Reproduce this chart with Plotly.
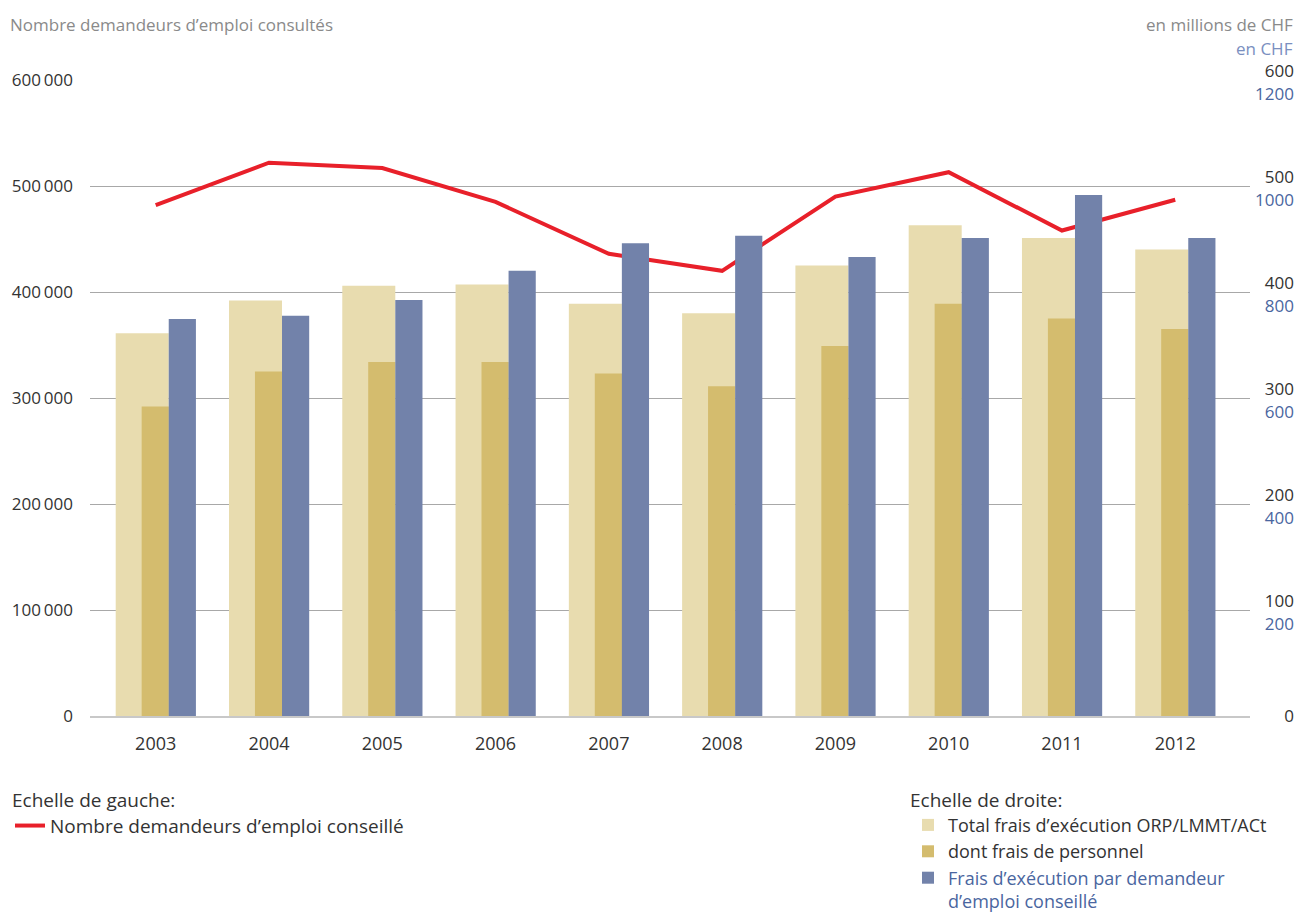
import plotly.graph_objects as go

years = ["2003", "2004", "2005", "2006", "2007", "2008", "2009", "2010", "2011", "2012"]
demandeurs = [482000, 522000, 517000, 485000, 436000, 420000, 490000, 513000, 458000, 487000]
total_frais = [361, 392, 406, 407, 389, 380, 425, 463, 451, 440]
frais_personnel = [292, 325, 334, 334, 323, 311, 349, 389, 375, 365]
frais_par_demandeur = [749, 755, 785, 840, 892, 906, 866, 902, 983, 902]

left_ticks = [0, 100000, 200000, 300000, 400000, 500000, 600000]
left_text = ["0", "100\u2009000", "200\u2009000", "300\u2009000", "400\u2009000", "500\u2009000", "600\u2009000"]
mid_ticks = [100, 200, 300, 400, 500, 600]
blue_ticks = [200, 400, 600, 800, 1000, 1200]

FONT = "Open Sans"
DARK = "#333333"
GREY = "#8a8a8a"
BLUE_TXT = "#4a66a0"
BEIGE = "#e8dcaf"
TAN = "#d4bc6e"
BLUE = "#7282aa"
RED = "#e8202a"

fig = go.Figure()

fig.add_trace(go.Bar(
    x=years, y=total_frais, yaxis="y2", name="Total frais d\u2019exécution ORP/LMMT/ACt",
    marker=dict(color=BEIGE, line=dict(width=0)), offset=-0.353, width=0.468,
    legend="legend2"))
fig.add_trace(go.Bar(
    x=years, y=frais_personnel, yaxis="y2", name="dont frais de personnel",
    marker=dict(color=TAN, line=dict(width=0)), offset=-0.124, width=0.24,
    legend="legend2"))
fig.add_trace(go.Bar(
    x=years, y=frais_par_demandeur, yaxis="y3",
    name="<span style='color:%s'>Frais d\u2019exécution par demandeur<br>d\u2019emploi conseillé</span>" % BLUE_TXT,
    marker=dict(color=BLUE, line=dict(width=0)), offset=0.115, width=0.24,
    legend="legend2"))
fig.add_trace(go.Scatter(
    x=years, y=demandeurs, mode="lines", name="Nombre demandeurs d\u2019emploi conseillé",
    line=dict(color=RED, width=4), legend="legend"))

dom_right = (1250 - 90) / 1205
rpos = (1294 - 90) / 1205

fig.update_layout(
    width=1299, height=913,
    margin=dict(l=90, r=4, t=80, b=197, autoexpand=False),
    paper_bgcolor="white", plot_bgcolor="white",
    font=dict(family=FONT, size=18, color=DARK),
    barmode="overlay",
    xaxis=dict(domain=[0, dom_right], type="category", range=[-0.58, 9.66],
               showgrid=False, showline=True, linecolor="#c8c8c8", linewidth=2,
               ticks="", ticklabelstandoff=10, tickfont=dict(size=18, color=DARK)),
    yaxis=dict(range=[0, 600000], tickvals=left_ticks, ticktext=left_text,
               showgrid=True, gridcolor="#a8a8a8", gridwidth=1, zeroline=False,
               ticks="", ticklabelstandoff=16, tickfont=dict(size=17, color=DARK)),
    yaxis2=dict(range=[0, 600], overlaying="y", side="left", anchor="free", position=rpos,
                tickvals=mid_ticks, showgrid=False, zeroline=False, showline=False,
                ticks="", ticklabelstandoff=0, ticklabelshift=-9,
                tickfont=dict(size=17, color=DARK)),
    yaxis3=dict(range=[0, 1200], overlaying="y", side="left", anchor="free", position=rpos,
                tickvals=blue_ticks, showgrid=False, zeroline=False, showline=False,
                ticks="", ticklabelstandoff=0, ticklabelshift=14,
                tickfont=dict(size=17, color=BLUE_TXT)),
    yaxis4=dict(range=[0, 600], overlaying="y", side="left", anchor="free", position=rpos,
                tickvals=[0], ticktext=["0"], showgrid=False, zeroline=False, showline=False,
                ticks="", ticklabelstandoff=0, tickfont=dict(size=17, color=DARK)),
    legend=dict(x=(10 - 90) / 1205, y=(716 - 782) / 636, xanchor="left", yanchor="top",
                title=dict(text="Echelle de gauche:", font=dict(size=19, color=DARK)),
                font=dict(size=19, color=DARK), bgcolor="rgba(0,0,0,0)",
                itemwidth=30, tracegroupgap=0),
    legend2=dict(x=(908 - 90) / 1205, y=(716 - 782) / 636, xanchor="left", yanchor="top",
                 title=dict(text="Echelle de droite:", font=dict(size=19, color=DARK)),
                 font=dict(size=18, color=DARK), bgcolor="rgba(0,0,0,0)",
                 itemwidth=30, traceorder="normal", tracegroupgap=0, valign="top"),
    annotations=[
        dict(text="Nombre demandeurs d\u2019emploi consultés", xref="paper", yref="paper",
             x=(8 - 90) / 1205, y=(716 - 25) / 636, xanchor="left", yanchor="middle",
             showarrow=False, font=dict(size=17, color=GREY)),
        dict(text="en millions de CHF", xref="paper", yref="paper",
             x=1.0, y=(716 - 25) / 636, xanchor="right", yanchor="middle",
             showarrow=False, font=dict(size=17, color=GREY)),
        dict(text="en CHF", xref="paper", yref="paper",
             x=1.0, y=(716 - 48) / 636, xanchor="right", yanchor="middle",
             showarrow=False, font=dict(size=17, color="#7a8fbf")),
    ],
)

# empty trace so the extra right-hand axis (holding the single "0" label) renders
fig.add_trace(go.Scatter(x=[years[0]], y=[None], yaxis="y4", showlegend=False, hoverinfo="skip"))

fig.write_html("out.html", config={"displayModeBar": False},
               post_script="document.body.style.margin='0';")
